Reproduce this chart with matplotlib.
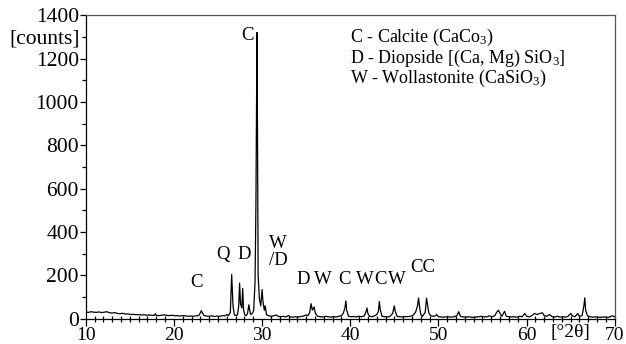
import matplotlib
matplotlib.use("Agg")
from matplotlib import pyplot as plt

plt.rcParams["font.family"] = ["Liberation Serif", "DejaVu Serif"]
plt.rcParams["mathtext.fontset"] = "custom"
plt.rcParams["mathtext.rm"] = "Liberation Serif"
plt.rcParams["mathtext.default"] = "regular"

# XRD pattern: 2theta (deg) and counts
two_theta = [
    10.0, 10.3, 10.6, 10.9, 11.2, 11.5, 11.8, 12.1, 12.4, 12.7, 13.0, 13.3, 13.6, 13.9,
    14.2, 14.5, 14.8, 15.1, 15.4, 15.7, 16.0, 16.3, 16.6, 16.9, 17.2, 17.5, 17.8, 17.9,
    18.0, 18.3, 18.6, 18.9, 19.2, 19.5, 19.8, 20.1, 20.4, 20.7, 21.0, 21.3, 21.6, 21.9,
    22.2, 22.5, 22.8, 23.0, 23.1, 23.2, 23.4, 23.7, 24.0, 24.3, 24.6, 24.9, 25.2, 25.5,
    25.8, 26.0, 26.2, 26.4, 26.55, 26.7, 26.85, 27.0, 27.2, 27.35, 27.45, 27.55, 27.7,
    27.8, 27.9, 28.05, 28.2, 28.35, 28.5, 28.6, 28.7, 28.9, 29.05, 29.2, 29.3, 29.38,
    29.42, 29.48, 29.55, 29.7, 29.85, 30.0, 30.1, 30.25, 30.35, 30.5, 30.7, 31.0, 31.3,
    31.6, 31.8, 32.1, 32.4, 32.7, 33.0, 33.2, 33.5, 33.8, 34.1, 34.4, 34.7, 35.0, 35.2,
    35.4, 35.55, 35.7, 35.9, 36.05, 36.3, 36.6, 36.9, 37.2, 37.5, 37.8, 38.1, 38.4, 38.7,
    39.0, 39.2, 39.4, 39.5, 39.6, 39.8, 40.1, 40.4, 40.7, 41.0, 41.3, 41.6, 41.8, 41.9,
    42.0, 42.2, 42.5, 42.8, 43.0, 43.2, 43.3, 43.4, 43.6, 43.9, 44.2, 44.5, 44.8, 45.0,
    45.1, 45.3, 45.6, 45.9, 46.2, 46.5, 46.8, 47.1, 47.4, 47.6, 47.75, 47.85, 48.0, 48.2,
    48.5, 48.65, 48.75, 48.9, 49.1, 49.4, 49.7, 49.8, 50.0, 50.3, 50.6, 50.9, 51.2, 51.5,
    51.8, 52.1, 52.3, 52.5, 52.8, 53.1, 53.4, 53.7, 54.0, 54.3, 54.6, 54.9, 55.2, 55.5,
    55.8, 56.1, 56.4, 56.6, 56.8, 57.0, 57.2, 57.5, 57.7, 58.0, 58.3, 58.6, 58.9, 59.2,
    59.5, 59.8, 60.0, 60.3, 60.6, 60.9, 61.2, 61.5, 61.8, 62.0, 62.3, 62.6, 62.9, 63.2,
    63.5, 63.8, 64.1, 64.4, 64.7, 65.0, 65.2, 65.5, 65.8, 66.0, 66.3, 66.5, 66.6, 66.7,
    66.9, 67.2, 67.5, 67.8, 68.1, 68.4, 68.7, 69.0, 69.3, 69.6, 69.8, 70.0,
]
counts = [
    32, 30, 33, 31, 30, 32, 29, 31, 33, 28, 27, 29, 25, 24,
    26, 22, 23, 20, 21, 19, 20, 18, 19, 17, 18, 16, 17, 24,
    16, 15, 17, 19, 16, 15, 17, 14, 15, 13, 15, 14, 12, 13,
    12, 14, 15, 28, 38, 30, 16, 13, 12, 14, 11, 13, 12, 15,
    14, 20, 16, 30, 205, 60, 20, 15, 18, 60, 165, 70, 50,
    140, 40, 18, 15, 25, 65, 40, 20, 25, 40, 170, 520, 1090,
    1320, 860, 200, 90, 60, 135, 80, 40, 60, 20, 15, 12, 14,
    18, 12, 10, 12, 9, 16, 9, 8, 10, 9, 11, 13, 18, 15,
    30, 70, 40, 55, 25, 12, 10, 9, 12, 10, 8, 11, 9, 12,
    15, 25, 50, 83, 40, 12, 10, 11, 9, 12, 10, 14, 35, 50,
    25, 12, 10, 15, 20, 35, 80, 45, 12, 10, 9, 11, 25, 60,
    35, 12, 10, 9, 11, 10, 12, 15, 30, 55, 96, 60, 20, 12,
    30, 95, 70, 30, 15, 12, 15, 20, 10, 9, 8, 10, 9, 8,
    10, 15, 33, 12, 9, 8, 10, 8, 7, 9, 10, 12, 9, 10,
    14, 10, 15, 30, 40, 25, 12, 35, 12, 10, 9, 10, 8, 12,
    10, 25, 12, 9, 15, 25, 20, 25, 28, 15, 12, 20, 10, 9,
    12, 8, 10, 8, 12, 25, 14, 10, 25, 12, 15, 60, 97, 40,
    15, 10, 8, 9, 8, 7, 9, 8, 7, 12, 14, 9,
]

# phase labels over the peaks: (text, 2theta, counts at text centre)
peak_labels = [
    ("C", 22.6, 170), ("Q", 25.6, 295), ("D", 28.0, 295), ("C", 28.4, 1305),
    ("W\n/D", 31.8, 309), ("D", 34.7, 180), ("W", 36.9, 180), ("C", 39.3, 180),
    ("W", 41.7, 180), ("C", 43.4, 180), ("W", 45.3, 180), ("CC", 48.2, 235),
]
legend_lines = [
    "C - Calcite (CaCo$_3$)",
    "D - Diopside [(Ca, Mg) SiO$_3$]",
    "W - Wollastonite (CaSiO$_3$)",
]
y_major = [0, 200, 400, 600, 800, 1000, 1200, 1400]
y_minor = [100, 300, 500, 700, 900, 1100, 1300]
x_major = [10, 20, 30, 40, 50, 60, 70]
x_minor = [v for v in range(11, 70) if v % 10 != 0]


def main():
    fig = plt.figure(figsize=(6.26, 3.44), dpi=100)
    ax = fig.add_axes([0.137, 0.073, 0.845, 0.883])
    ax.plot(two_theta, counts, color="black", linewidth=0.9)
    ax.set_xlim(10, 70)
    ax.set_ylim(0, 1400)

    ax.set_xticks(x_major)
    ax.set_xticks(x_minor, labels=["[°2θ]" if v == 65 else "" for v in x_minor], minor=True)
    ax.set_yticks(y_major)
    ax.set_yticks(y_minor, labels=["[counts]" if v == 1300 else "" for v in y_minor], minor=True)
    ax.tick_params(axis="x", which="both", labelsize=14, width=0.9, pad=1)
    ax.tick_params(axis="y", which="both", labelsize=15.5, width=0.9, pad=1)
    ax.tick_params(axis="x", which="major", direction="out", length=5)
    ax.tick_params(axis="x", which="minor", direction="inout", length=5)
    ax.tick_params(axis="y", which="major", direction="out", length=4)
    ax.tick_params(axis="y", which="minor", direction="out", length=3)
    for sp in ax.spines.values():
        sp.set_linewidth(0.9)
    ax.spines["top"].set_color("#555555")
    ax.spines["right"].set_color("#555555")

    for txt, x, y in peak_labels:
        ax.text(x, y, txt, fontsize=13.5, ha="center", va="center", linespacing=1.0)
    # key to the phase letters, one text block
    ax.text(40.0, 1345, "\n".join(legend_lines), fontsize=13, ha="left", va="top",
            linespacing=0.95)

    fig.savefig("out.png", dpi=100)


if __name__ == "__main__":
    main()
